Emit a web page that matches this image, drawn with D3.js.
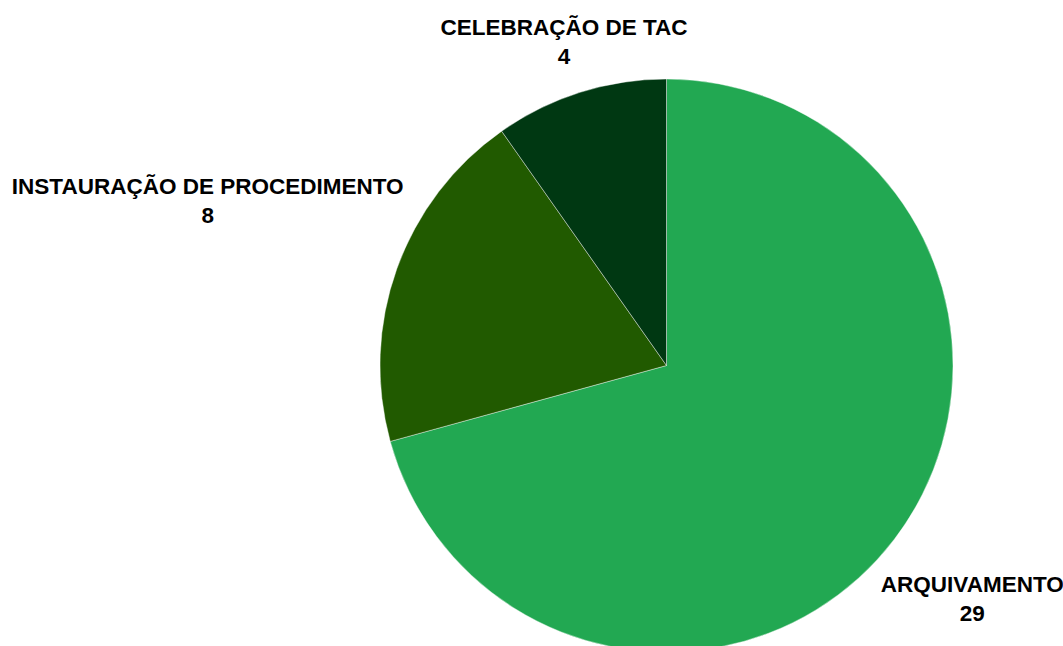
<!DOCTYPE html>
<html>
<head>
<meta charset="utf-8">
<script src="https://cdn.jsdelivr.net/npm/d3@7"></script>
<style>
  body { margin: 0; background: #fff; }
  svg { display: block; }
  .label { font-family: "Liberation Sans", Arial, sans-serif; font-weight: bold; font-size: 22.5px; fill: #000; }
</style>
</head>
<body>
<script>
var categories = ["ARQUIVAMENTO", "INSTAURAÇÃO DE PROCEDIMENTO", "CELEBRAÇÃO DE TAC"];
var values = [29, 8, 4];
var colors = ["#22a852", "#215a00", "#003812"];

var width = 1063, height = 646;
var cx = 666.5, cy = 365.5, radius = 286.5;
var gap = 10;

var svg = d3.select("body").append("svg")
    .attr("width", width)
    .attr("height", height);

var chart = svg.append("g").attr("transform", `translate(${cx}, ${cy})`);

var data = categories.map(function(c, i) { return { name: c, value: values[i], color: colors[i] }; });

var pie = d3.pie().sort(null).value(function(d) { return d.value; });
var arc = d3.arc().innerRadius(0).outerRadius(radius);
var arcs = pie(data);

chart.selectAll(".slice").data(arcs).enter().append("path")
    .attr("class", "slice")
    .attr("d", arc)
    .attr("fill", function(d) { return d.data.color; })
    .attr("stroke", "#ffffff")
    .attr("stroke-opacity", 0.5)
    .attr("stroke-width", 0.8);

// labels pushed out along the mid angle until the text box clears the circle
arcs.forEach(function(d) {
    var a = (d.startAngle + d.endAngle) / 2;
    var dx = Math.sin(a), dy = -Math.cos(a);
    var t = chart.append("text").attr("class", "label").attr("text-anchor", "middle");
    t.append("tspan").attr("x", 0).attr("y", 0).text(d.data.name);
    t.append("tspan").attr("x", 0).attr("y", 29).text(d.data.value);
    var b = t.node().getBBox();
    var bcx = b.x + b.width / 2, bcy = b.y + b.height / 2;
    var r = radius;
    for (; r < radius * 3; r += 1) {
        var x0 = dx * r - b.width / 2, x1 = dx * r + b.width / 2;
        var y0 = dy * r - b.height / 2, y1 = dy * r + b.height / 2;
        var nx = Math.max(x0, Math.min(0, x1));
        var ny = Math.max(y0, Math.min(0, y1));
        if (Math.sqrt(nx * nx + ny * ny) >= radius + gap) break;
    }
    t.attr("transform", `translate(${dx * r - bcx}, ${dy * r - bcy})`);
});
</script>
</body>
</html>
